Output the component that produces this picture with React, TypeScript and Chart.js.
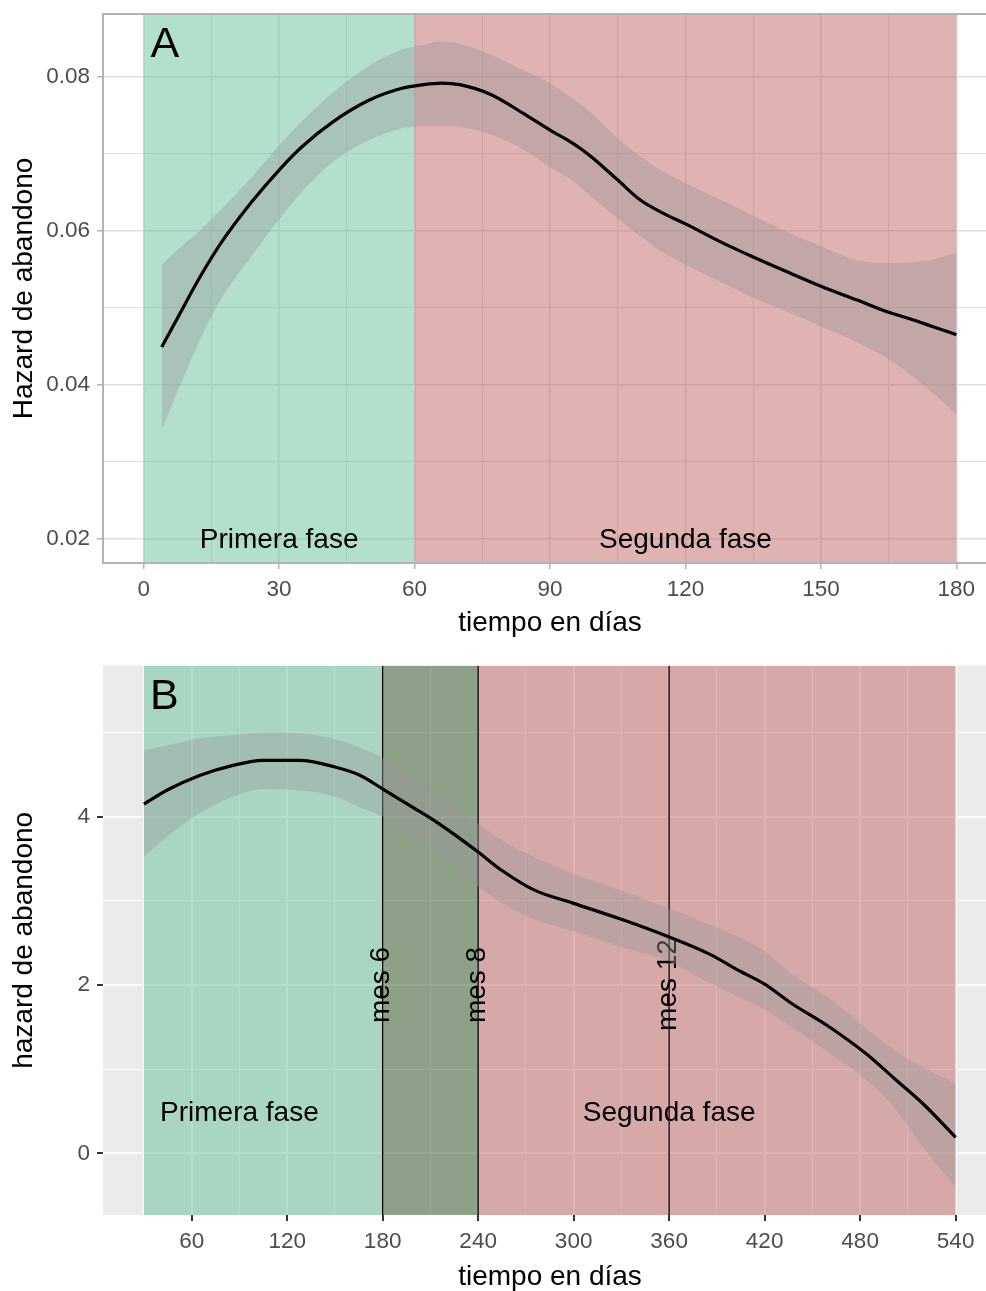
import React, { useEffect, useRef } from 'react';
import { Chart, registerables } from 'chart.js';
Chart.register(...registerables);

const FONT = '"Liberation Sans", Arial, Helvetica, sans-serif';

// ---------- Panel A data ----------
const daysA = [4, 8, 12, 17, 24, 30, 35, 42, 50, 57, 62, 66, 70, 77, 84, 90, 95, 99, 105, 110, 115, 120, 128, 135, 142, 150, 158, 165, 170, 175, 180];
const hazardA = [0.0449, 0.0492, 0.0535, 0.0583, 0.0638, 0.0679, 0.0709, 0.0742, 0.0770, 0.0785, 0.0790, 0.0792, 0.0790, 0.0777, 0.0753, 0.0731, 0.0714, 0.0697, 0.0666, 0.0640, 0.0623, 0.0609, 0.0585, 0.0566, 0.0548, 0.0528, 0.0510, 0.0494, 0.0485, 0.0475, 0.0465];
const upperA = [0.0556, 0.0578, 0.0598, 0.0627, 0.0670, 0.0711, 0.0742, 0.0780, 0.0815, 0.0835, 0.0842, 0.0846, 0.0843, 0.0829, 0.0809, 0.0792, 0.0772, 0.0754, 0.0720, 0.0697, 0.0677, 0.0662, 0.0640, 0.0620, 0.0600, 0.0580, 0.0562, 0.0558, 0.0559, 0.0563, 0.0571];
const lowerA = [0.0342, 0.0398, 0.0452, 0.0510, 0.0568, 0.0615, 0.0650, 0.0690, 0.0718, 0.0733, 0.0736, 0.0736, 0.0735, 0.0725, 0.0706, 0.0683, 0.0665, 0.0645, 0.0616, 0.0593, 0.0572, 0.0556, 0.0533, 0.0513, 0.0496, 0.0476, 0.0455, 0.0433, 0.0412, 0.0388, 0.0361];
const xMajorA = [0, 30, 60, 90, 120, 150, 180];
const xMinorA = [15, 45, 75, 105, 135, 165];
const yMajorA = [0.02, 0.04, 0.06, 0.08];
const yMinorA = [0.03, 0.05, 0.07];
const yLabelsA = ['0.02', '0.04', '0.06', '0.08'];
const phaseStartA = [0, 60];
const phaseEndA = [60, 180];
const phaseNamesA = ['Primera fase', 'Segunda fase'];
const phaseLabelXA = [30, 120];
const phaseLabelYA = 0.01977;

// ---------- Panel B data ----------
const daysB = [30, 45, 65, 86, 105, 128, 150, 166, 180, 200, 212, 225, 240, 255, 275, 300, 330, 360, 385, 405, 420, 437, 460, 484, 502, 520, 540];
const hazardB = [4.15, 4.32, 4.49, 4.61, 4.67, 4.67, 4.59, 4.49, 4.33, 4.10, 3.96, 3.79, 3.58, 3.36, 3.13, 2.97, 2.78, 2.57, 2.37, 2.16, 2.01, 1.78, 1.51, 1.18, 0.88, 0.58, 0.19];
const upperB = [4.79, 4.85, 4.93, 4.97, 5.00, 4.99, 4.92, 4.82, 4.70, 4.45, 4.31, 4.14, 3.92, 3.72, 3.52, 3.32, 3.12, 2.91, 2.72, 2.56, 2.40, 2.13, 1.85, 1.48, 1.22, 1.02, 0.83];
const lowerB = [3.52, 3.77, 4.04, 4.24, 4.33, 4.31, 4.24, 4.11, 4.00, 3.74, 3.60, 3.42, 3.17, 2.97, 2.78, 2.64, 2.45, 2.28, 2.03, 1.85, 1.71, 1.50, 1.20, 0.87, 0.53, 0.06, -0.40];
const xMajorB = [60, 120, 180, 240, 300, 360, 420, 480, 540];
const xMinorB = [30, 90, 150, 210, 270, 330, 390, 450, 510];
const yMajorB = [0, 2, 4];
const yMinorB = [1, 3, 5];
const yLabelsB = ['0', '2', '4'];
const phaseStartB = [30, 180, 240];
const phaseEndB = [180, 240, 540];
const phaseNamesB = ['Primera fase', 'Segunda fase'];
const phaseLabelXB = [90, 360];
const phaseLabelYB = 0.472;
const monthLineX = [180, 240, 360];
const monthLabels = ['mes 6', 'mes 8', 'mes 12'];
const monthLabelY = 2;

// ---------- styles ----------
const GREEN = 'rgba(103,193,153,0.5)';
const RED = 'rgba(193,101,101,0.5)';
const OLIVE = 'rgba(51,85,39,0.5)';
const RIBBON = 'rgba(153,153,153,0.4)';

type PanelCfg = {
  letter: string;
  letterX: number;
  letterY: number;
  rectStart: number[];
  rectEnd: number[];
  rectColors: string[];
  vlines: number[];
  vlabels: string[];
  vlabelY: number;
  names: string[];
  namesX: number[];
  namesY: number;
  background?: string;
  border?: string;
};

function overlayPlugin(cfg: PanelCfg) {
  return {
    id: 'overlay',
    beforeDraw(chart: any) {
      if (!cfg.background) return;
      const { ctx, chartArea: a } = chart;
      ctx.save();
      ctx.fillStyle = cfg.background;
      ctx.fillRect(a.left, a.top, a.right - a.left, a.bottom - a.top);
      ctx.restore();
    },
    beforeDatasetsDraw(chart: any) {
      const { ctx, chartArea: a, scales } = chart;
      const x = scales.x, y = scales.y;
      ctx.save();
      ctx.beginPath();
      ctx.rect(a.left, a.top, a.right - a.left, a.bottom - a.top);
      ctx.clip();
      cfg.rectStart.forEach((s, i) => {
        const x0 = x.getPixelForValue(s);
        const x1 = x.getPixelForValue(cfg.rectEnd[i]);
        ctx.fillStyle = cfg.rectColors[i];
        ctx.fillRect(x0, a.top, x1 - x0, a.bottom - a.top);
      });
      ctx.strokeStyle = '#000';
      ctx.lineWidth = 1.3;
      cfg.vlines.forEach((v) => {
        const px = x.getPixelForValue(v);
        ctx.beginPath();
        ctx.moveTo(px, a.top);
        ctx.lineTo(px, a.bottom);
        ctx.stroke();
      });
      ctx.fillStyle = '#000';
      ctx.font = `28px ${FONT}`;
      ctx.textAlign = 'center';
      ctx.textBaseline = 'middle';
      cfg.vlines.forEach((v, i) => {
        if (!cfg.vlabels[i]) return;
        ctx.save();
        ctx.translate(x.getPixelForValue(v) - 1, y.getPixelForValue(cfg.vlabelY));
        ctx.rotate(-Math.PI / 2);
        ctx.fillText(cfg.vlabels[i], 0, 0);
        ctx.restore();
      });
      ctx.restore();
    },
    afterDatasetsDraw(chart: any) {
      const { ctx, chartArea: a, scales } = chart;
      const x = scales.x, y = scales.y;
      ctx.save();
      ctx.fillStyle = '#000';
      ctx.font = `28px ${FONT}`;
      ctx.textAlign = 'center';
      ctx.textBaseline = 'middle';
      cfg.names.forEach((n, i) => {
        ctx.fillText(n, x.getPixelForValue(cfg.namesX[i]), y.getPixelForValue(cfg.namesY));
      });
      ctx.font = `43px ${FONT}`;
      ctx.textAlign = 'left';
      ctx.textBaseline = 'alphabetic';
      ctx.fillText(cfg.letter, x.getPixelForValue(cfg.letterX), y.getPixelForValue(cfg.letterY));
      if (cfg.border) {
        ctx.strokeStyle = cfg.border;
        ctx.lineWidth = 2;
        ctx.strokeRect(a.left, a.top, a.right - a.left, a.bottom - a.top);
      }
      ctx.restore();
    },
  };
}

function zeroPad(s: any) {
  s.paddingTop = 0;
  s.paddingBottom = 0;
  s.paddingLeft = 0;
  s.paddingRight = 0;
}

function buildConfig(opts: {
  days: number[]; hazard: number[]; upper: number[]; lower: number[];
  xMajor: number[]; xMinor: number[]; yMajor: number[]; yMinor: number[]; yLabels: string[];
  xMin: number; xMax: number; yMin: number; yMax: number;
  yTitle: string; gridColor: string; tickColor: string; majorW: number; minorW: number; tickW: number;
  padTop: number; xAxisH: number; xTitlePadBottom: number; plugin: any;
}) {
  const pts = (vals: number[]) => opts.days.map((d, i) => ({ x: d, y: vals[i] }));
  const xTicks = [...opts.xMajor, ...opts.xMinor].sort((p, q) => p - q);
  const yTicks = [...opts.yMajor, ...opts.yMinor].sort((p, q) => p - q);
  const tickFont = { family: FONT, size: 22.5 };
  const titleFont = { family: FONT, size: 28 };
  return {
    type: 'line' as const,
    data: {
      datasets: [
        { data: pts(opts.hazard), borderColor: '#000', borderWidth: 3.2, pointRadius: 0, fill: false, cubicInterpolationMode: 'monotone' as const },
        { data: pts(opts.lower), borderWidth: 0, borderColor: 'rgba(0,0,0,0)', pointRadius: 0, fill: false, cubicInterpolationMode: 'monotone' as const },
        { data: pts(opts.upper), borderWidth: 0, borderColor: 'rgba(0,0,0,0)', pointRadius: 0, fill: 1, backgroundColor: RIBBON, cubicInterpolationMode: 'monotone' as const },
      ],
    },
    options: {
      responsive: false,
      animation: false as const,
      devicePixelRatio: 1,
      layout: { padding: { top: opts.padTop, left: 0, right: 0, bottom: 0 } },
      plugins: { legend: { display: false }, tooltip: { enabled: false }, title: { display: false } },
      scales: {
        x: {
          type: 'linear' as const,
          min: opts.xMin,
          max: opts.xMax,
          afterBuildTicks: (s: any) => { s.ticks = xTicks.map((v) => ({ value: v })); },
          afterFit: (s: any) => { s.height = opts.xAxisH; zeroPad(s); },
          ticks: {
            autoSkip: false, maxRotation: 0, padding: 7, color: '#4d4d4d', font: tickFont,
            callback: (v: any) => (opts.xMajor.includes(v) ? String(v) : ''),
          },
          grid: {
            color: opts.gridColor,
            lineWidth: (c: any) => (c.tick && opts.xMajor.includes(c.tick.value) ? opts.majorW : opts.minorW),
            tickColor: (c: any) => (c.tick && opts.xMajor.includes(c.tick.value) ? opts.tickColor : 'rgba(0,0,0,0)'),
            tickWidth: opts.tickW,
            tickLength: 6,
            drawTicks: true,
          },
          border: { display: false },
          title: { display: true, text: 'tiempo en días', color: '#000', font: titleFont, padding: { top: 0, bottom: opts.xTitlePadBottom } },
        },
        y: {
          type: 'linear' as const,
          min: opts.yMin,
          max: opts.yMax,
          afterBuildTicks: (s: any) => { s.ticks = yTicks.map((v) => ({ value: v })); },
          afterFit: (s: any) => { s.width = 103; zeroPad(s); },
          ticks: {
            autoSkip: false, padding: 7, color: '#4d4d4d', font: tickFont,
            callback: (v: any) => { const k = opts.yMajor.indexOf(v); return k >= 0 ? opts.yLabels[k] : ''; },
          },
          grid: {
            color: opts.gridColor,
            lineWidth: (c: any) => (c.tick && opts.yMajor.includes(c.tick.value) ? opts.majorW : opts.minorW),
            tickColor: (c: any) => (c.tick && opts.yMajor.includes(c.tick.value) ? opts.tickColor : 'rgba(0,0,0,0)'),
            tickWidth: opts.tickW,
            tickLength: 6,
            drawTicks: true,
          },
          border: { display: false },
          title: { display: true, text: opts.yTitle, color: '#000', font: titleFont, padding: { top: 7, bottom: 0 } },
        },
      },
    },
    plugins: [opts.plugin],
  };
}

export default function App() {
  const refA = useRef<HTMLCanvasElement>(null);
  const refB = useRef<HTMLCanvasElement>(null);

  useEffect(() => {
    document.body.style.margin = '0';
    document.documentElement.style.overflow = 'hidden';

    const pluginA = overlayPlugin({
      letter: 'A', letterX: 1.5, letterY: 0.08264,
      rectStart: phaseStartA, rectEnd: phaseEndA, rectColors: [GREEN, RED],
      vlines: [], vlabels: [], vlabelY: 0,
      names: phaseNamesA, namesX: phaseLabelXA, namesY: phaseLabelYA,
      border: '#b3b3b3',
    });
    const pluginB = overlayPlugin({
      letter: 'B', letterX: 33.8, letterY: 5.276,
      rectStart: phaseStartB, rectEnd: phaseEndB, rectColors: [GREEN, OLIVE, RED],
      vlines: monthLineX, vlabels: monthLabels, vlabelY: monthLabelY,
      names: phaseNamesB, namesX: phaseLabelXB, namesY: phaseLabelYB,
      background: '#ebebeb',
    });

    const chartA = new Chart(refA.current as HTMLCanvasElement, buildConfig({
      days: daysA, hazard: hazardA, upper: upperA, lower: lowerA,
      xMajor: xMajorA, xMinor: xMinorA, yMajor: yMajorA, yMinor: yMinorA, yLabels: yLabelsA,
      xMin: -9, xMax: 189, yMin: 0.01681, yMax: 0.08819,
      yTitle: 'Hazard de abandono', gridColor: '#dedede', tickColor: '#b3b3b3',
      majorW: 1.5, minorW: 1, tickW: 1.5,
      padTop: 14, xAxisH: 82, xTitlePadBottom: 5, plugin: pluginA,
    }) as any);

    const chartB = new Chart(refB.current as HTMLCanvasElement, buildConfig({
      days: daysB, hazard: hazardB, upper: upperB, lower: lowerB,
      xMajor: xMajorB, xMinor: xMinorB, yMajor: yMajorB, yMinor: yMinorB, yLabels: yLabelsB,
      xMin: 4.3, xMax: 566, yMin: -0.733, yMax: 5.794,
      yTitle: 'hazard de abandono', gridColor: '#ffffff', tickColor: '#333333',
      majorW: 2, minorW: 1, tickW: 2,
      padTop: 20.7, xAxisH: 76, xTitlePadBottom: -3, plugin: pluginB,
    }) as any);

    return () => { chartA.destroy(); chartB.destroy(); };
  }, []);

  return (
    <div style={{ position: 'relative', width: 986, height: 1291, overflow: 'hidden', background: '#fff' }}>
      <canvas ref={refA} width={997} height={645} style={{ position: 'absolute', left: 0, top: 0, display: 'block' }} />
      <canvas ref={refB} width={997} height={646} style={{ position: 'absolute', left: 0, top: 645, display: 'block' }} />
    </div>
  );
}
